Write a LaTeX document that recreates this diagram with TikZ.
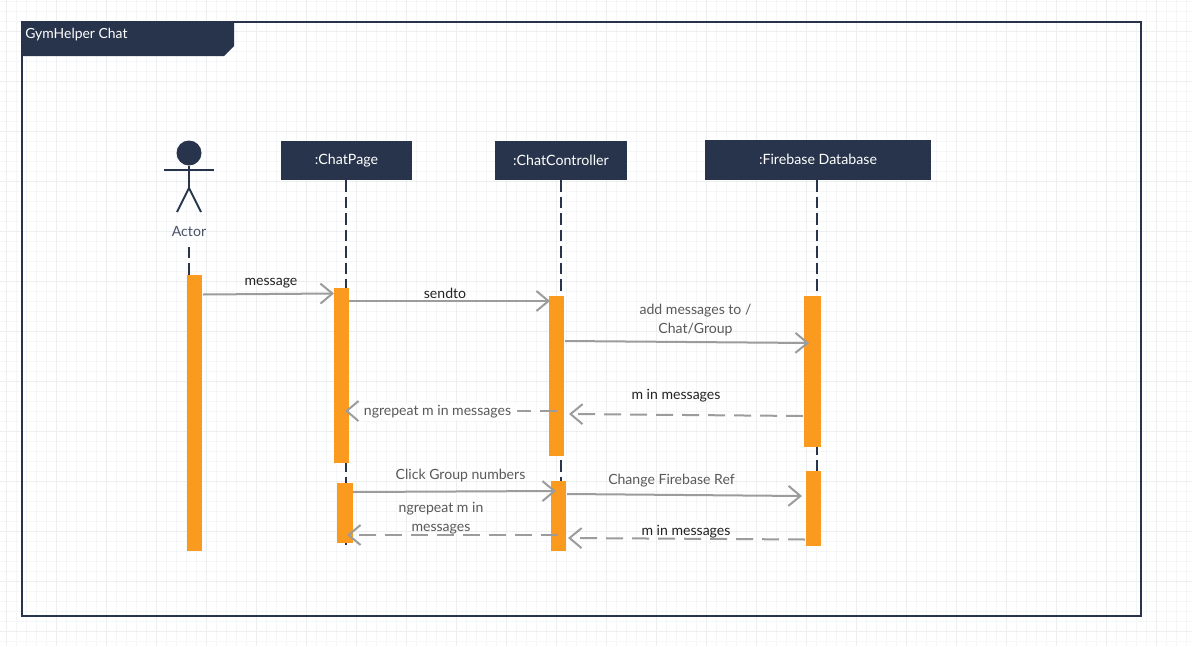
\documentclass[tikz,border=0pt]{standalone}
\usepackage{fontspec}
\setmainfont{Lato}
\usetikzlibrary{arrows.meta}
\definecolor{navy}{HTML}{28344B}
\definecolor{bar}{HTML}{FA9A1E}
\definecolor{msgc}{HTML}{9C9C9C}
\definecolor{txtgray}{HTML}{595959}
\definecolor{txtdark}{HTML}{222222}
\definecolor{gridminor}{HTML}{F5F6F7}
\definecolor{gridmajor}{HTML}{EDEEF0}
\tikzset{
  head/.style={fill=navy,text=white,font=\fontsize{10.65}{13}\selectfont,inner sep=0pt},
  actbar/.style={fill=bar,draw=none},
  life/.style={draw=navy,line width=1.5pt,dash pattern=on 8.6pt off 3.75pt},
  msg/.style={draw=msgc,line width=1.5pt,-{Straight Barb[length=9pt,width=15pt,line width=1.5pt]}},
  msgd/.style={msg,dash pattern=on 12.75pt off 6.75pt},
  lab/.style={text=txtgray,font=\fontsize{10.55}{14.1}\selectfont,inner sep=1pt,align=center},
  labk/.style={lab,text=txtdark},
}
\begin{document}
\begin{tikzpicture}[x=0.75pt,y=-0.75pt]
\useasboundingbox (0,0) rectangle (1192,646);
\fill[white] (0,0) rectangle (1192,646);
\foreach \g in {0,...,119} {\draw[gridminor,line width=0.6pt] ({\g*10+6.7},0) -- ({\g*10+6.7},646);}
\foreach \g in {0,...,64} {\draw[gridminor,line width=0.6pt] (0,{\g*10+1.7}) -- (1192,{\g*10+1.7});}
\foreach \g in {0,...,23} {\draw[gridmajor,line width=0.7pt] ({\g*50+6.7},0) -- ({\g*50+6.7},646);}
\foreach \g in {0,...,12} {\draw[gridmajor,line width=0.7pt] (0,{\g*50+31.7}) -- (1192,{\g*50+31.7});}
% frame
\draw[navy,line width=1.5pt] (22,22) rectangle (1141,616);
\fill[navy] (21,21) -- (234,21) -- (234,46) -- (224,56) -- (21,56) -- cycle;
\node[anchor=west,text=white,font=\fontsize{10.45}{12}\selectfont,inner sep=0pt] (frametitle) at (25,35) {GymHelper Chat};
% lifelines
\coordinate (actorTop) at (189,247);
\coordinate (actorEnd) at (189,275);
\coordinate (pageEnd) at (346,545);
\coordinate (ctrlEnd) at (561,481);
\coordinate (fireEnd) at (816.5,471);
% headers
\node[head,minimum width=98.25pt,minimum height=29.25pt] (page) at (346.5,160.5) {:ChatPage};
\node[head,minimum width=99pt,minimum height=29.25pt] (ctrl) at (561,160.5) {\raisebox{0.6pt}{:ChatController}};
\node[head,minimum width=169.5pt,minimum height=30pt] (fire) at (818,160) {\raisebox{0.6pt}{:Firebase Database}};
\draw[life] (page.south) ++(-0.5,0) -- (pageEnd);
\draw[life] (ctrl.south) -- (ctrlEnd);
\draw[life] (fire.south) ++(-1.5,0) -- (fireEnd);
\draw[life] (actorTop) -- (actorEnd);
% actor
\node[circle,fill=navy,minimum size=18.75pt,inner sep=0pt] (ahead) at (189,153) {};
\coordinate (hip) at (189,188);
\coordinate (armL) at (164,170);
\coordinate (armR) at (214,170);
\coordinate (legL) at (177,212);
\coordinate (legR) at (201,212);
\draw[navy,line width=1.5pt] (ahead) -- (hip);
\draw[navy,line width=1.5pt] (armL) -- (armR);
\draw[navy,line width=1.5pt] (legL) -- (hip) -- (legR);
\node[text=navy!85!white,font=\fontsize{10.6}{12}\selectfont,inner sep=0pt] (actorlab) at (189,231.5) {Actor};
% bars
\node[actbar,minimum width=11.25pt,minimum height=207pt,inner sep=0pt] (a1) at (194.5,413) {};
\node[actbar,minimum width=11.25pt,minimum height=131.25pt,inner sep=0pt] (p1) at (341.5,375.5) {};
\node[actbar,minimum width=12pt,minimum height=45pt,inner sep=0pt] (p2) at (345,513) {};
\node[actbar,minimum width=11.25pt,minimum height=120pt,inner sep=0pt] (c1) at (556.5,376) {};
\node[actbar,minimum width=11.25pt,minimum height=52.5pt,inner sep=0pt] (c2) at (558.5,516) {};
\node[actbar,minimum width=12.75pt,minimum height=113.25pt,inner sep=0pt] (f1) at (812.5,371.5) {};
\node[actbar,minimum width=11.25pt,minimum height=56.25pt,inner sep=0pt] (f2) at (813.5,508.5) {};
% message ends
\coordinate (m1s) at (203,294.5); \coordinate (m1e) at (334,293.5);
\coordinate (m2s) at (349,301);   \coordinate (m2e) at (550,301);
\coordinate (m3s) at (565,341);   \coordinate (m3e) at (809,343);
\coordinate (m4s) at (803,416);   \coordinate (m4e) at (569,414);
\coordinate (m5s) at (557,411);   \coordinate (m5e) at (345,411);
\coordinate (m6s) at (353,492);   \coordinate (m6e) at (556,491);
\coordinate (m7s) at (567,494);   \coordinate (m7e) at (802,496);
\coordinate (m8s) at (558,535);   \coordinate (m8e) at (347,535);
\coordinate (m9s) at (805,539.5); \coordinate (m9e) at (568,538);
\draw[msg] (m1s) -- (m1e);
\draw[msg] (m2s) -- (m2e);
\draw[msg] (m3s) -- (m3e);
\draw[msgd] (m4s) -- (m4e);
\draw[msgd] (m5s) -- (m5e);
\draw[msg] (m6s) -- (m6e);
\draw[msg] (m7s) -- (m7e);
\draw[msgd] (m8s) -- (m8e);
\draw[msgd] (m9s) -- (m9e);
% labels
\node[labk] (l1) at (271,283) {message};
\node[labk] (l2) at (445,293.5) {sendto};
\node[lab] (l3) at (695.5,320) {add messages to /\\Chat/Group};
\node[labk] (l4) at (676,395.5) {m in messages};
\node[lab,fill=white,inner xsep=4.5pt] (l5) at (437.5,412) {ngrepeat m in messages};
\node[lab] (l6) at (460.5,475.5) {Click Group numbers};
\node[lab] (l7) at (671.5,480.5) {Change Firebase Ref};
\node[lab] (l8) at (441,518) {ngrepeat m in\\messages};
\node[labk] (l9) at (686,531.5) {m in messages};
\end{tikzpicture}
\end{document}
